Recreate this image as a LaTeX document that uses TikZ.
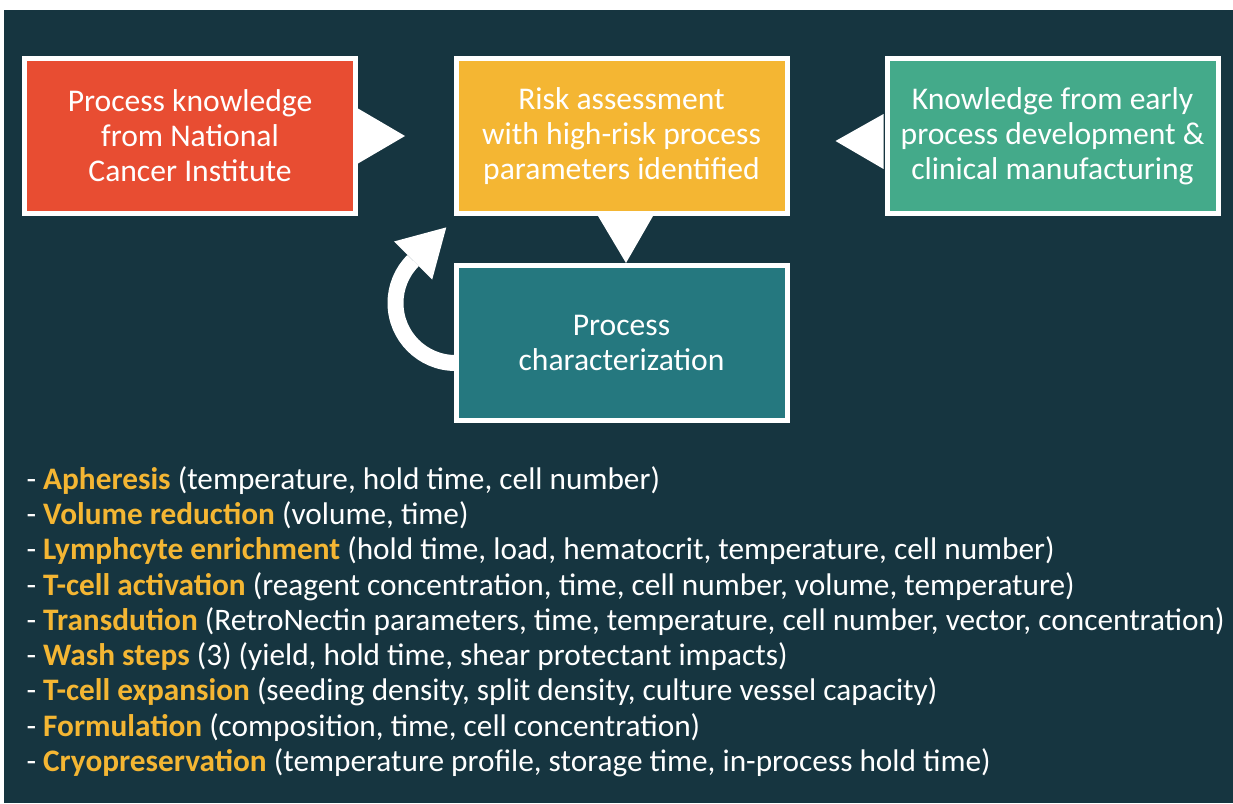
\documentclass[tikz,border=0pt]{standalone}
\usepackage{fontspec}
\setmainfont{Carlito}
\usetikzlibrary{calc}
\definecolor{bgdark}{HTML}{163540}
\definecolor{boxred}{HTML}{E84D32}
\definecolor{boxyellow}{HTML}{F4B633}
\definecolor{boxgreen}{HTML}{44AA8A}
\definecolor{boxteal}{HTML}{25787F}
\begin{document}
\begin{tikzpicture}[x=1pt, y=1pt,
  every node/.style={align=center, text=white},
  stagebox/.style={draw=white, line width=5pt, minimum width=331pt, minimum height=155pt,
    inner sep=0pt, font=\fontsize{31.6}{35}\selectfont}]
  % Canvas and background
  \useasboundingbox (0,0) rectangle (1233,-803);
  \fill[bgdark] (4,-10) rectangle (1233,-803);

  % The four stage boxes
  \node[stagebox, fill=boxred] (nci) at (190,-136) {Process knowledge\\from National\\Cancer Institute};
  \node[stagebox, fill=boxyellow] (risk) at (621.5,-136) {Risk assessment\\with high-risk process\\parameters identified};
  \node[stagebox, fill=boxgreen] (early) at (1052.5,-136) {Knowledge from early\\process development \&\\clinical manufacturing};
  \node[stagebox, fill=boxteal] (charac) at (621.5,-343) {Process\\characterization};

  % Triangle pointers between the boxes
  \fill[white] ($(nci.east)+(0,27.5)$) -- ($(nci.east)+(47,0)$) -- ($(nci.east)+(0,-27.5)$) -- cycle;
  \fill[white] ($(early.west)+(-1,22)$) -- ($(early.west)+(-49,-5)$) -- ($(early.west)+(-1,-33)$) -- cycle;
  \fill[white] ($(risk.south)+(-23.5,0)$) -- ($(risk.south)+(31.5,0)$) -- ($(charac.north)+(4.5,0)$) -- cycle;

  % Loop back from characterization to risk assessment
  \draw[white, line width=16pt] ($(charac.west)+(2,-20)$) arc[start angle=270, end angle=135, radius=60] coordinate (loopend);
  \fill[white] ($(loopend)+(-19.1,19.1)$) -- ($(loopend)+(33.2,33.2)$) -- ($(loopend)+(19.1,-19.1)$) -- cycle;

  % Process steps and their parameters
  \node[anchor=north west, align=left, font=\fontsize{31.3}{35.25}\selectfont] (steps) at (23,-463) {%
    - {\color{boxyellow}\bfseries Apheresis} (temperature, hold time, cell number)\\
    - {\color{boxyellow}\bfseries Volume reduction} (volume, time)\\
    - {\color{boxyellow}\bfseries Lymphcyte enrichment} (hold time, load, hematocrit, temperature, cell number)\\
    - {\color{boxyellow}\bfseries T-cell activation} (reagent concentration, time, cell number, volume, temperature)\\
    - {\color{boxyellow}\bfseries Transdution} (RetroNectin parameters, time, temperature, cell number, vector, concentration)\\
    - {\color{boxyellow}\bfseries Wash steps} (3) (yield, hold time, shear protectant impacts)\\
    - {\color{boxyellow}\bfseries T-cell expansion} (seeding density, split density, culture vessel capacity)\\
    - {\color{boxyellow}\bfseries Formulation} (composition, time, cell concentration)\\
    - {\color{boxyellow}\bfseries Cryopreservation} (temperature profile, storage time, in-process hold time)};
\end{tikzpicture}
\end{document}
